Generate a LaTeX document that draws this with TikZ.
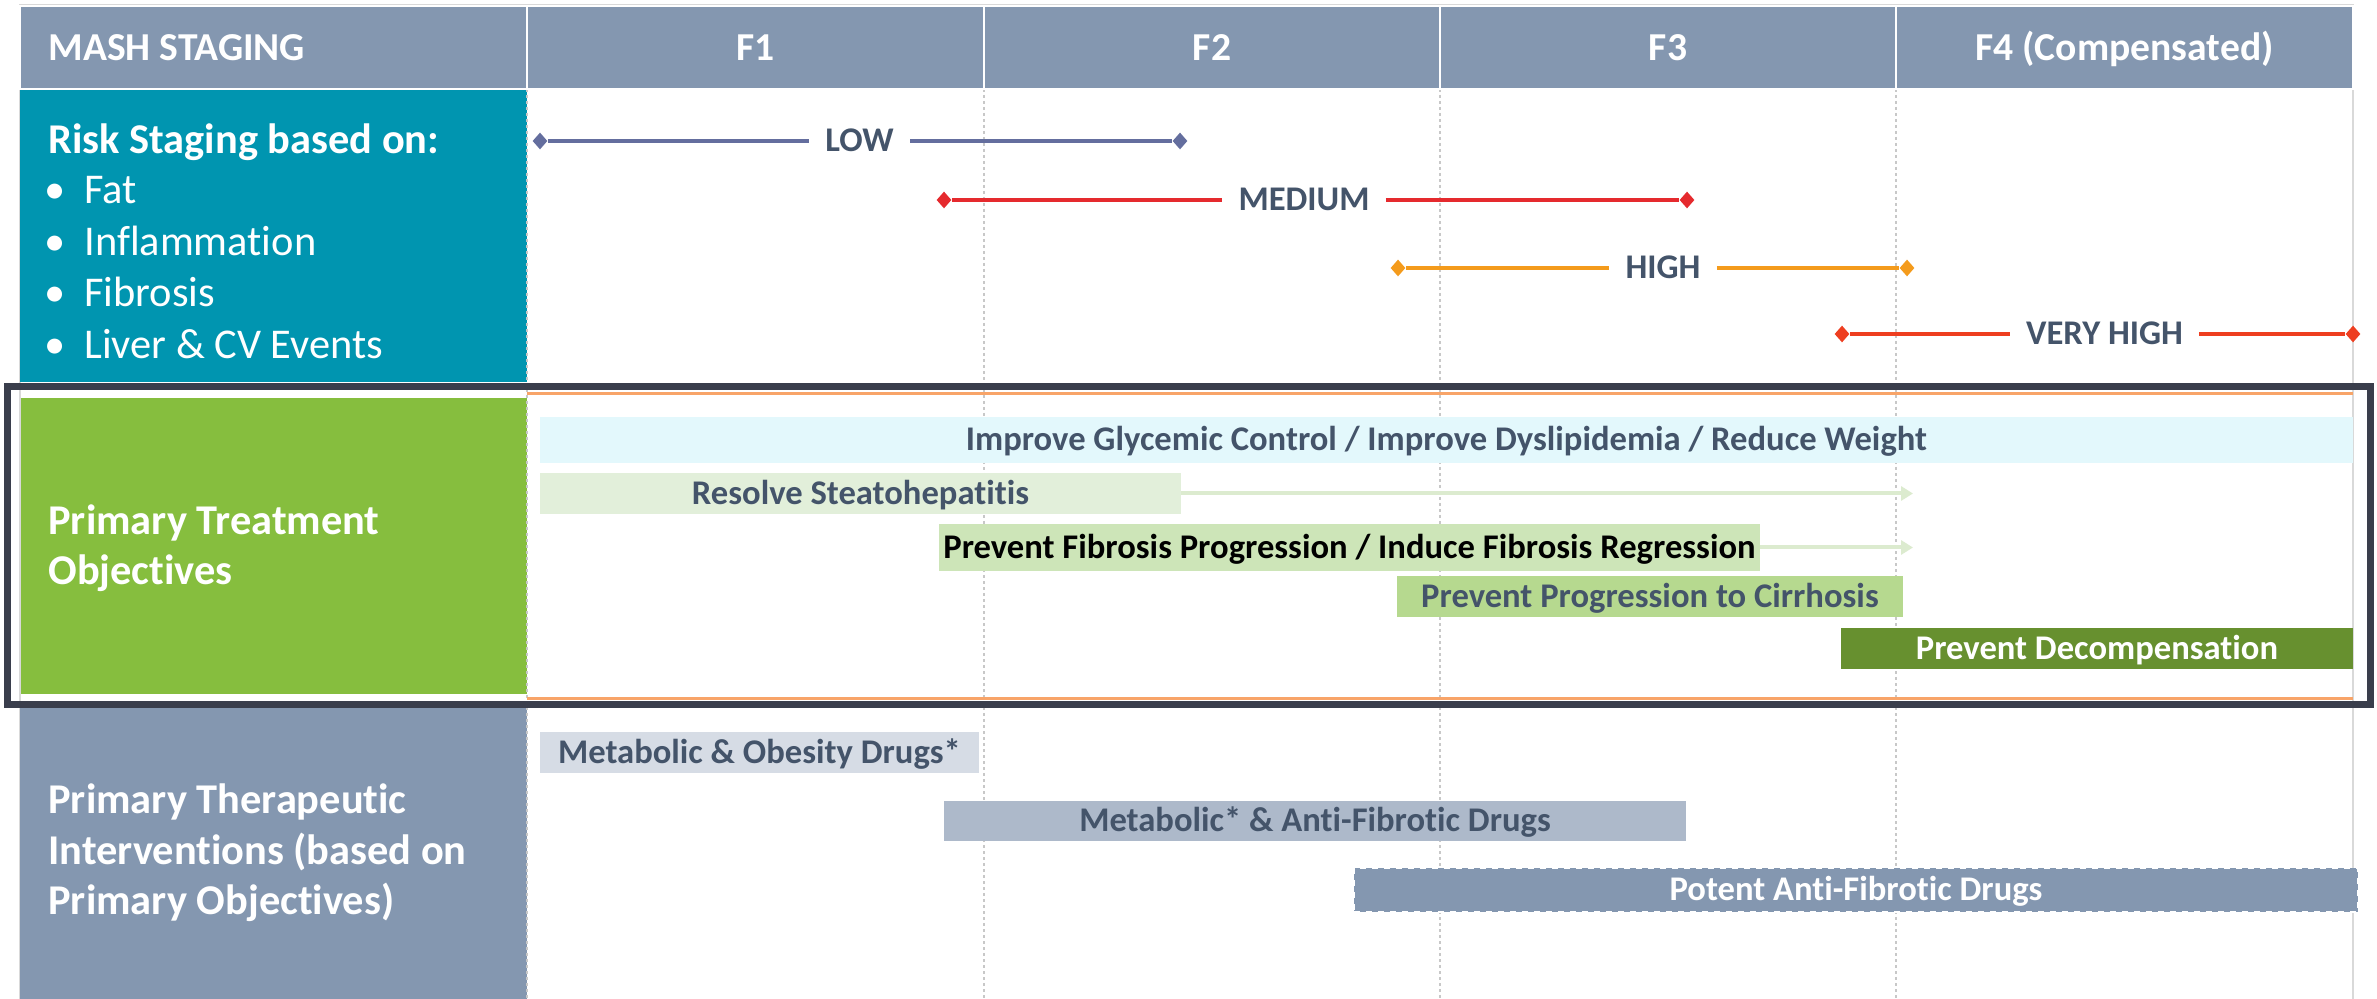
\documentclass[tikz,border=0pt]{standalone}
\usepackage{fontspec}
\setmainfont{Carlito}[Ligatures={NoCommon}]
\usetikzlibrary{fit,shapes.geometric,arrows.meta}
\definecolor{cHdr}{HTML}{8497B0}
\definecolor{cTeal}{HTML}{0095B0}
\definecolor{cGreen}{HTML}{86BE3E}
\definecolor{cFrame}{HTML}{3A3E4C}
\definecolor{cText}{HTML}{44546A}
\definecolor{cGrid}{HTML}{C8C8C8}
\definecolor{cEdge}{HTML}{D9D9D9}
\definecolor{cOrange}{HTML}{F8A468}
\definecolor{cLow}{HTML}{646E9E}
\definecolor{cMed}{HTML}{E52A2E}
\definecolor{cHigh}{HTML}{F49B1C}
\definecolor{cVHigh}{HTML}{EE3E20}
\definecolor{cBarA}{HTML}{E3F8FC}
\definecolor{cBarB}{HTML}{E2EFDA}
\definecolor{cBarC}{HTML}{CDE5B8}
\definecolor{cBarD}{HTML}{B6D98F}
\definecolor{cBarE}{HTML}{67902F}
\definecolor{cArrow}{HTML}{DCEBCF}
\definecolor{cDrugA}{HTML}{D6DCE5}
\definecolor{cDrugB}{HTML}{ADB9CA}
\begin{document}
\begin{tikzpicture}[x=0.5pt,y=-0.5pt,
  box/.style={inner sep=0pt, outer sep=0pt},
  cell/.style={box, fill=cHdr, draw=white, line width=1pt},
  hdrtxt/.style={text=white, font=\fontsize{19.8}{23}\selectfont\bfseries, inner sep=0pt, anchor=base},
  lbl/.style={text=white, font=\fontsize{21.2}{25}\selectfont\bfseries, inner sep=0pt, anchor=base west},
  bultxt/.style={text=white, font=\fontsize{21.2}{25}\selectfont, inner sep=0pt, anchor=base west},
  risk/.style={text=cText, font=\fontsize{17.3}{20}\selectfont\bfseries, inner xsep=8pt, inner ysep=0pt, text height=10.9pt, text depth=0pt},
  dia/.style={diamond, inner sep=0pt, minimum width=7.5pt, minimum height=8.5pt},
  rline/.style={line width=2pt},
  bar/.style={box},
  bartxt/.style={inner sep=0pt, font=\fontsize{17.3}{20}\selectfont\bfseries, text=cText, text height=10.9pt, text depth=0pt},
  grid/.style={cGrid, line width=1pt, dash pattern=on 1.5pt off 1.5pt},
  arr/.style={cArrow, line width=2pt, -{Triangle[length=6pt,width=7pt]}}
]
\useasboundingbox (0,0) rectangle (2377,999);
\fill[white] (0,0) rectangle (2377,999);
\draw[cEdge, line width=1pt] (20,5) rectangle (2353,1010);

% left column boxes
\node[box, fill=cTeal, fit={(20,89) (527,382)}] (riskBox) {};
\node[box, fill=cGreen, fit={(21,398) (527,694)}] (objBox) {};
\node[box, fill=cHdr, fit={(20,708) (527,1005)}] (intBox) {};

% grid
\draw[grid] (527,89) -- (527,999);
\draw[grid] (984,89) -- (984,999);
\draw[grid] (1440,89) -- (1440,999);
\draw[grid] (1896,89) -- (1896,999);

% header
\node[cell, fit={(20,6) (527,89)}] (hMash) {};
\node[cell, fit={(527,6) (984,89)}] (hF1) {};
\node[cell, fit={(984,6) (1440,89)}] (hF2) {};
\node[cell, fit={(1440,6) (1896,89)}] (hF3) {};
\node[cell, fit={(1896,6) (2353,89)}] (hF4) {};
\node[hdrtxt, anchor=base west] (tMash) at (48,61) {MASH STAGING};
\node[hdrtxt] (tF1) at (755.5,61) {F1};
\node[hdrtxt] (tF2) at (1212,61) {F2};
\node[hdrtxt] (tF3) at (1668,61) {F3};
\node[hdrtxt] (tF4) at (2124.5,61) {F4 (Compensated)};

% left labels
\node[lbl] (rkTitle) at (48,154) {Risk Staging based on:};
\node[bultxt] (rk1) at (44,204) {\makebox[20pt][l]{•}Fat};
\node[bultxt] (rk2) at (44,256) {\makebox[20pt][l]{•}Inflammation};
\node[bultxt] (rk3) at (44,307) {\makebox[20pt][l]{•}Fibrosis};
\node[bultxt] (rk4) at (44,359) {\makebox[20pt][l]{•}Liver \& CV Events};
\node[lbl] (ob1) at (48,535) {Primary Treatment};
\node[lbl] (ob2) at (48,585) {Objectives};
\node[lbl] (in1) at (48,813) {Primary Therapeutic};
\node[lbl] (in2) at (48,864) {Interventions (based on};
\node[lbl] (in3) at (48,914) {Primary Objectives)};

% risk lines
\node[dia, fill=cLow] (lowL) at (540,141) {};
\node[dia, fill=cLow] (lowR) at (1180,141) {};
\node[risk] (lowT) at (859.5,141) {LOW};
\draw[rline, cLow] (lowL) -- (lowT) (lowT) -- (lowR);

\node[dia, fill=cMed] (medL) at (944,200) {};
\node[dia, fill=cMed] (medR) at (1687,200) {};
\node[risk] (medT) at (1304,200) {MEDIUM};
\draw[rline, cMed] (medL) -- (medT) (medT) -- (medR);

\node[dia, fill=cHigh] (higL) at (1398,268) {};
\node[dia, fill=cHigh] (higR) at (1907,268) {};
\node[risk] (higT) at (1663,268) {HIGH};
\draw[rline, cHigh] (higL) -- (higT) (higT) -- (higR);

\node[dia, fill=cVHigh] (vhL) at (1842,334) {};
\node[dia, fill=cVHigh] (vhR) at (2353,334) {};
\node[risk] (vhT) at (2104.5,334) {VERY HIGH};
\draw[rline, cVHigh] (vhL) -- (vhT) (vhT) -- (vhR);

% objectives
\node[bar, fill=cBarA, fit={(540,417) (2353,463)}] (objA) {};
\node[bartxt] (objAt) at (objA.center) {Improve Glycemic Control / Improve Dyslipidemia / Reduce Weight};
\node[bar, fill=cBarB, fit={(540,473) (1181,514)}] (objB) {};
\node[bartxt] (objBt) at (objB.center) {Resolve Steatohepatitis};
\node[bar, fill=cBarC, fit={(939,524) (1760,571)}] (objC) {};
\node[bartxt, text=black] (objCt) at (objC.center) {Prevent Fibrosis Progression / Induce Fibrosis Regression};
\node[bar, fill=cBarD, fit={(1397,576) (1903,617)}] (objD) {};
\node[bartxt] (objDt) at (objD.center) {Prevent Progression to Cirrhosis};
\node[bar, fill=cBarE, fit={(1841,628) (2353,669)}] (objE) {};
\node[bartxt, text=white] (objEt) at (objE.center) {Prevent Decompensation};
\coordinate (arrB) at (1913,493.5);
\coordinate (arrC) at (1913,547.5);
\draw[arr] (objB) -- (arrB);
\draw[arr] (objC) -- (arrC);

% interventions
\node[bar, fill=cDrugA, fit={(540,732) (979,773)}] (drugA) {};
\node[bartxt] (drugAt) at (drugA.center) {Metabolic \& Obesity Drugs*};
\node[bar, fill=cDrugB, fit={(944,801) (1686,841)}] (drugB) {};
\node[bartxt] (drugBt) at (drugB.center) {Metabolic* \& Anti-Fibrotic Drugs};
\node[bar, fill=cHdr, draw=white, dashed, line width=0.8pt, fit={(1354,868) (2358,912)}] (drugC) {};
\node[bartxt, text=white] (drugCt) at (drugC.center) {Potent Anti-Fibrotic Drugs};

% orange rules and frame
\draw[cOrange, line width=1.5pt] (527,394) -- (2353,394);
\draw[cOrange, line width=1.5pt] (527,698) -- (2353,698);
\node[box, draw=cFrame, line width=3.5pt, fit={(7.5,386.5) (2370.5,704.5)}] (frame) {};
\end{tikzpicture}
\end{document}
